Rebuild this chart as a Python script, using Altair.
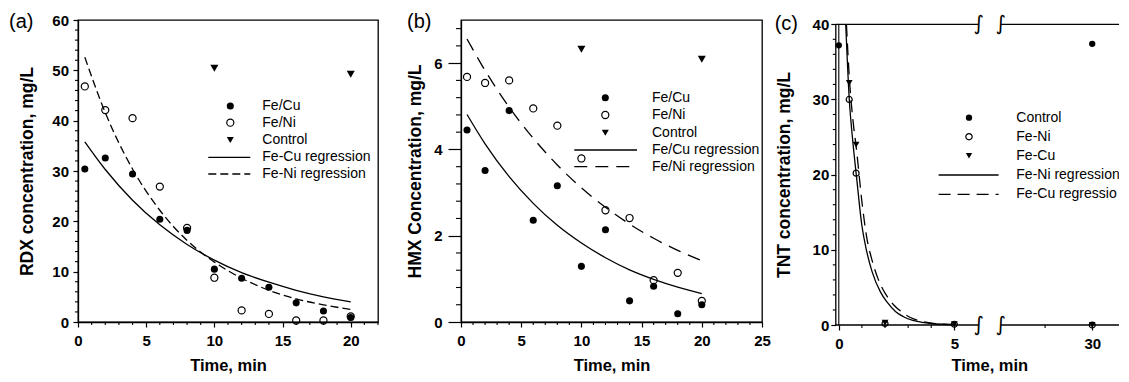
import altair as alt
import pandas as pd

FONT = "Liberation Sans"
LW = 1.3

# ---------------- (a) RDX ----------------
a_time = [0.5, 2, 4, 6, 8, 10, 12, 14, 16, 18, 20]
a_fecu = [30.4, 32.6, 29.4, 20.4, 18.2, 10.5, 8.7, 6.9, 3.8, 2.2, 0.9]
a_feni = [46.8, 42.1, 40.5, 26.9, 18.7, 8.8, 2.3, 1.6, 0.3, 0.3, 1.1]
a_ctrl_time = [10, 20]
a_ctrl = [50.4, 49.2]
a_fit_time = [0.5, 2, 4, 6, 8, 10, 12, 14, 16, 18, 20]
a_fit_fecu = [35.8, 30.3, 24.2, 19.3, 15.4, 12.3, 9.8, 7.9, 6.3, 5.0, 4.0]
a_fit_feni = [52.6, 41.6, 30.4, 22.2, 16.2, 11.9, 8.7, 6.3, 4.6, 3.4, 2.5]
a_x_ticks = [0, 5, 10, 15, 20]
a_y_ticks = [0, 10, 20, 30, 40, 50, 60]
a_legend = ["Fe/Cu", "Fe/Ni", "Control", "Fe-Cu regression", "Fe-Ni regression"]

# ---------------- (b) HMX ----------------
b_time = [0.5, 2, 4, 6, 8, 10, 12, 14, 16, 18, 20]
b_fecu = [4.45, 3.51, 4.90, 2.36, 3.16, 1.29, 2.14, 0.49, 0.83, 0.19, 0.40]
b_feni = [5.68, 5.54, 5.60, 4.95, 4.55, 3.79, 2.59, 2.41, 0.97, 1.14, 0.49]
b_ctrl_time = [10, 20]
b_ctrl = [6.32, 6.09]
b_fit_time = [0.5, 2, 4, 6, 8, 10, 12, 14, 16, 18, 20]
b_fit_fecu = [4.81, 4.13, 3.37, 2.75, 2.24, 1.83, 1.49, 1.21, 0.99, 0.81, 0.66]
b_fit_feni = [6.56, 5.83, 4.98, 4.26, 3.64, 3.11, 2.66, 2.27, 1.94, 1.66, 1.42]
b_x_ticks = [0, 5, 10, 15, 20, 25]
b_y_ticks = [0, 2, 4, 6]
b_legend = ["Fe/Cu", "Fe/Ni", "Control", "Fe/Cu regression", "Fe/Ni regression"]

# ---------------- (c) TNT ----------------
c_ctrl_time = [0, 30]
c_ctrl = [37.2, 37.4]
c_time = [0.45, 0.75, 2, 5, 30]
c_feni = [30.0, 20.2, 0.2, 0.1, 0.0]
c_fecu = [32.2, 24.0, 0.3, 0.1, 0.0]
c_fit_feni_time = [0.30, 0.45, 0.6, 0.77, 1.0, 1.2, 1.44, 1.8, 2.1, 2.45, 2.8, 3.2, 3.6, 4.0, 4.5, 5.0]
c_fit_feni = [40.0, 30.2, 24.6, 19.6, 13.2, 9.9, 7.1, 4.4, 3.0, 1.8, 1.1, 0.6, 0.35, 0.2, 0.1, 0.05]
c_fit_fecu_time = [0.33, 0.47, 0.6, 0.77, 1.0, 1.2, 1.44, 1.68, 2.09, 2.4, 2.74, 3.1, 3.5, 4.0, 4.5, 5.0]
c_fit_fecu = [40.0, 32.2, 27.6, 23.2, 16.4, 11.8, 8.6, 6.3, 3.8, 2.6, 1.7, 1.0, 0.55, 0.25, 0.12, 0.06]
c_x_ticks = [0, 5, 30]
c_y_ticks = [0, 10, 20, 30, 40]
c_legend = ["Control", "Fe-Ni", "Fe-Cu", "Fe-Ni regression", "Fe-Cu regression"]

ONE = pd.DataFrame({"k": [0]})

AX = dict(grid=False, labelFont=FONT, labelFontSize=15, labelFontWeight="bold",
          labelColor="black", titleFont=FONT, titleFontWeight="bold", titleColor="black",
          tickColor="black", tickWidth=1.2, domainColor="black", domainWidth=LW,
          labelOverlap=False, labelFlush=False, titleBaseline="middle", titleAlign="center")


def axis_x(values, title_x, title_y, tick, pad, domain=True):
    return alt.Axis(values=values, title="Time, min", tickSize=tick, labelPadding=pad,
                    titleX=title_x, titleY=title_y, titleAngle=0, titleFontSize=16.5,
                    domain=domain, **AX)


def axis_y(title, values, title_x, title_y, tick, pad, domain=True, offset=0):
    return alt.Axis(values=values, title=title, tickSize=tick, labelPadding=pad,
                    titleX=title_x, titleY=title_y, titleAngle=270, titleFontSize=17.5,
                    domain=domain, offset=offset, **AX)


def sym(base, kind, size):
    if kind == "filled":
        return base.mark_point(shape="circle", filled=True, fill="black", size=size, opacity=1)
    if kind == "open":
        return base.mark_point(shape="circle", filled=False, stroke="black", size=size,
                               opacity=1, strokeWidth=1.2)
    return base.mark_point(shape="triangle-down", filled=True, fill="black", size=size, opacity=1)


def pts(t, c, kind, size, X, Y):
    return sym(alt.Chart(pd.DataFrame({"t": t, "c": c})), kind, size).encode(x=X("t"), y=Y("c"))


def curve(t, c, dash, X, Y):
    kw = dict(color="black", strokeWidth=LW, interpolate="monotone")
    if dash:
        kw["strokeDash"] = dash
    return alt.Chart(pd.DataFrame({"t": t, "c": c})).mark_line(**kw).encode(x=X("t"), y=Y("c"))


def xminor(vals, X, H, L=3):
    return alt.Chart(pd.DataFrame({"v": vals})).mark_rule(color="black", strokeWidth=1.1).encode(
        x=X("v"), y=alt.value(H), y2=alt.value(H + L))


def yminor(vals, Y, x0=0, L=3):
    return alt.Chart(pd.DataFrame({"v": vals})).mark_rule(color="black", strokeWidth=1.1).encode(
        y=Y("v"), x=alt.value(x0), x2=alt.value(x0 - L))


def legend(labels, kinds, ys, xs, xl, xt, size, dash, limit=0):
    out = []
    for lab, kind, y in zip(labels, kinds, ys):
        if kind in ("filled", "open", "tri"):
            out.append(sym(alt.Chart(ONE), kind, size).encode(x=alt.value(xs), y=alt.value(y)))
        else:
            kw = dict(color="black", strokeWidth=LW)
            if kind == "dashed":
                kw["strokeDash"] = dash
            out.append(alt.Chart(ONE).mark_rule(**kw).encode(
                x=alt.value(xl[0]), x2=alt.value(xl[1]), y=alt.value(y)))
        tkw = dict(align="left", baseline="middle", font=FONT, fontSize=14, color="black")
        if limit:
            tkw.update(limit=limit, ellipsis="\u200b")
        out.append(alt.Chart(ONE).mark_text(**tkw).encode(
            x=alt.value(xt), y=alt.value(y), text=alt.value(lab)))
    return out


def plabel(txt, x, y):
    return alt.Chart(ONE).mark_text(align="center", baseline="middle", font=FONT, fontSize=20,
                                    color="black").encode(
        x=alt.value(x), y=alt.value(y), text=alt.value(txt))


def encs(xs, xa, ys, ya):
    X = lambda f: alt.X(f, type="quantitative", scale=xs, axis=xa)
    Y = lambda f: alt.Y(f, type="quantitative", scale=ys, axis=ya)
    return X, Y


# ---------------- panel (a) ----------------
WA, HA = 300, 302
X, Y = encs(alt.Scale(domain=[0, 22], nice=False, zero=False),
            axis_x(a_x_ticks, WA / 2, 43, 5, 6),
            alt.Scale(domain=[0, 60], nice=False),
            axis_y("RDX concentration, mg/L", a_y_ticks, -50.7, HA / 2, 5, 4.5))
pa_layers = [
    xminor([v for v in range(1, 23) if v % 5], X, HA),
    yminor([v for v in range(2, 60, 2) if v % 10], Y),
    curve(a_fit_time, a_fit_fecu, None, X, Y),
    curve(a_fit_time, a_fit_feni, [8, 4], X, Y),
    pts(a_time, a_fecu, "filled", 50, X, Y),
    pts(a_time, a_feni, "open", 50, X, Y),
    pts(a_ctrl_time, a_ctrl, "tri", 65, X, Y),
] + legend(a_legend, ["filled", "open", "tri", "solid", "dashed"],
           [86, 102.7, 120, 137.3, 154], 152.3, (130.3, 172.3), 184.3, 50, [8, 4]) + [
    plabel("(a)", -56.7, 2)]
pa = alt.layer(*pa_layers).properties(width=WA, height=HA,
                                      view=alt.ViewBackground(stroke="black", strokeWidth=LW))

# ---------------- panel (b) ----------------
WB, HB = 301, 302
X, Y = encs(alt.Scale(domain=[0, 25], nice=False, zero=False),
            axis_x(b_x_ticks, WB / 2, 43, 5, 6),
            alt.Scale(domain=[0, 7], nice=False),
            axis_y("HMX Concentration, mg/L", b_y_ticks, -45.7, HB / 2, 13, 6))
pb_layers = [
    xminor([v for v in range(1, 25) if v % 5], X, HB),
    yminor([round(0.4 * k, 1) for k in range(1, 18) if k % 5], Y, 0, 5),
    curve(b_fit_time, b_fit_fecu, None, X, Y),
    curve(b_fit_time, b_fit_feni, [13, 8], X, Y),
    pts(b_time, b_fecu, "filled", 50, X, Y),
    pts(b_time, b_feni, "open", 50, X, Y),
    pts(b_ctrl_time, b_ctrl, "tri", 65, X, Y),
] + legend(b_legend, ["filled", "open", "tri", "solid", "dashed"],
           [77.7, 95, 112.7, 130, 146.7], 144.3, (113.3, 176), 191, 50, [13, 8]) + [
    plabel("(b)", -41.7, 2)]
pb = alt.layer(*pb_layers).properties(width=WB, height=HB,
                                      view=alt.ViewBackground(stroke="black", strokeWidth=LW))

# ---------------- panel (c) with broken time axis ----------------
XOFF = 9.2
XEND = 33.0
WC, HC = 275.5, 305
xs_c = alt.Scale(domain=[-0.13, 6.05, 20.3, XEND], range=[-XOFF, 133.6, 155.8, WC],
                 nice=False, zero=False)
xa_c = axis_x(c_x_ticks, 144.3, 40, 5, 6, domain=False)
ys_c = alt.Scale(domain=[0, 40.57], nice=False)
ya_c = axis_y("TNT concentration, mg/L", c_y_ticks, -51.5, 154.5, 5, 2, domain=False, offset=XOFF)
X, Y = encs(xs_c, xa_c, ys_c, ya_c)
XD = lambda v: alt.XDatum(v, type="quantitative", scale=xs_c, axis=xa_c)
YD = lambda v: alt.YDatum(v, type="quantitative", scale=ys_c, axis=ya_c)


def seg(x0, x1, yv):
    return alt.Chart(ONE).mark_rule(color="black", strokeWidth=LW).encode(
        x=XD(x0), x2=alt.X2Datum(x1), y=YD(yv))


def squiggle(xv, yv):
    return alt.Chart(ONE).mark_text(font="DejaVu Sans", fontSize=20, color="black",
                                    baseline="middle", align="center").encode(
        x=XD(xv), y=YD(yv), text=alt.value("\u222b"))


pc_layers = [
    xminor([1, 2, 3, 4, 25], X, HC),
    yminor([v for v in range(2, 40, 2) if v % 10], Y, -XOFF),
    alt.Chart(ONE).mark_rule(color="black", strokeWidth=LW).encode(
        x=alt.value(-XOFF), y=YD(0), y2=alt.Y2Datum(40)),
    alt.Chart(ONE).mark_rule(color="black", strokeWidth=1.1).encode(
        x=XD(0), y=YD(0), y2=alt.Y2Datum(40)),
    seg(-0.13, 6.05, 0), seg(20.3, XEND, 0), seg(-0.13, 6.05, 40), seg(20.3, XEND, 40),
    squiggle(6.05, 40), squiggle(20.3, 40), squiggle(6.05, 0), squiggle(20.3, 0),
    curve(c_fit_feni_time, c_fit_feni, None, X, Y),
    curve(c_fit_fecu_time, c_fit_fecu, [12, 7], X, Y),
    pts(c_ctrl_time, c_ctrl, "filled", 40, X, Y),
    pts(c_time, c_feni, "open", 36, X, Y),
    pts(c_time, c_fecu, "tri", 45, X, Y),
] + legend(c_legend, ["filled", "open", "tri", "solid", "dashed"],
           [97.7, 116.7, 135.7, 155, 174.3], 124, (93.6, 153.6), 171.3, 40, [12, 7],
           limit=104) + [
    plabel("(c)", -58.7, 4)]
pc = alt.layer(*pc_layers).properties(width=WC, height=HC,
                                      view=alt.ViewBackground(stroke="transparent"))

chart = alt.hconcat(pa, pb, pc, spacing=83, bounds="flush").properties(
    padding={"left": 0, "top": 3, "right": -12, "bottom": 0})

chart.save("out.html", embed_options={"renderer": "svg", "actions": False})
